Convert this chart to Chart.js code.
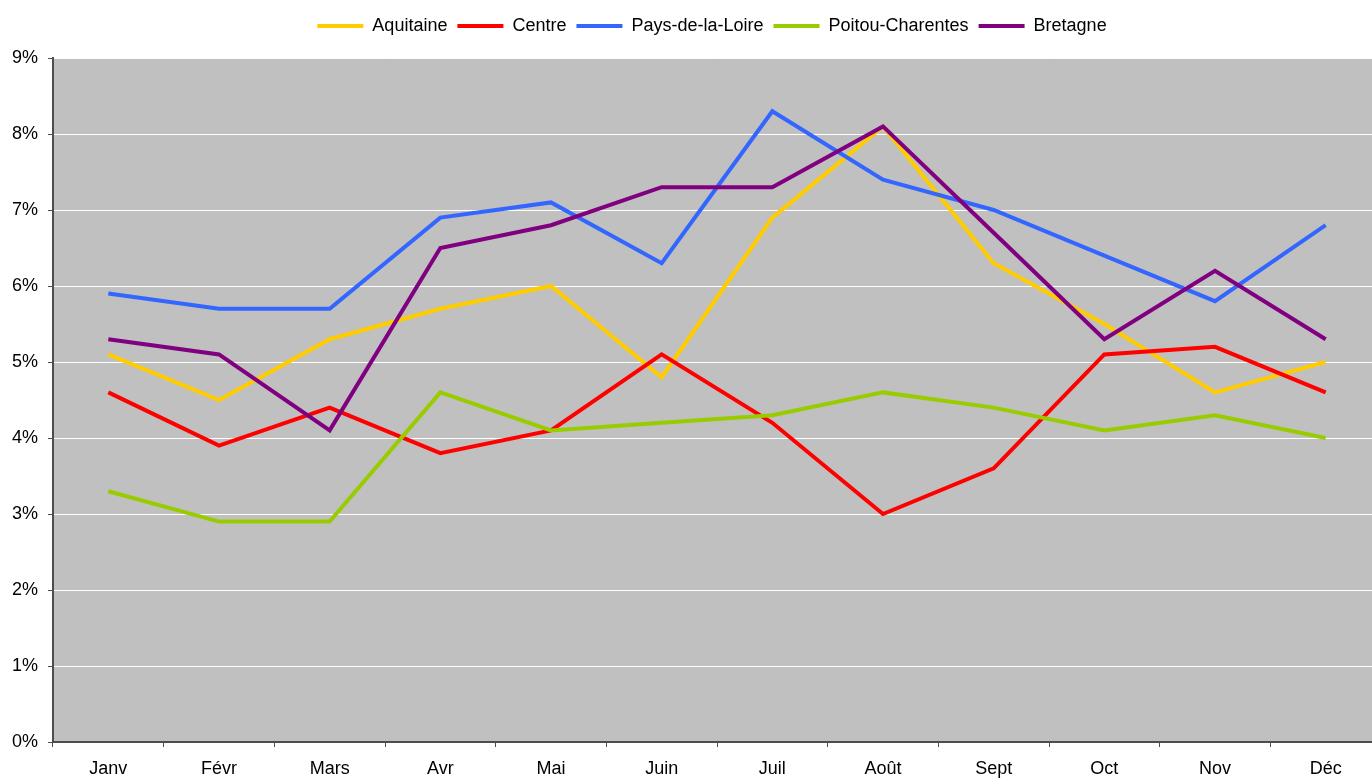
<!DOCTYPE html>
<html>
<head>
<meta charset="utf-8">
<script src="https://cdn.jsdelivr.net/npm/chart.js@4/dist/chart.umd.min.js"></script>
<style>
html,body{margin:0;padding:0;background:#fff;overflow:hidden;}
#wrap{width:1372px;height:779px;overflow:hidden;position:relative;}
canvas{display:block;}
</style>
</head>
<body>
<div id="wrap"><canvas id="c" width="1424" height="779" style="width:1424px;height:779px"></canvas></div>
<script>
const months = ['Janv','Févr','Mars','Avr','Mai','Juin','Juil','Août','Sept','Oct','Nov','Déc'];
const seriesNames = ['Aquitaine','Centre','Pays-de-la-Loire','Poitou-Charentes','Bretagne'];
const aquitaine = [5.1,4.5,5.3,5.7,6.0,4.8,6.9,8.1,6.3,5.5,4.6,5.0];
const centre    = [4.6,3.9,4.4,3.8,4.1,5.1,4.2,3.0,3.6,5.1,5.2,4.6];
const paysLoire = [5.9,5.7,5.7,6.9,7.1,6.3,8.3,7.4,7.0,6.4,5.8,6.8];
const poitou    = [3.3,2.9,2.9,4.6,4.1,4.2,4.3,4.6,4.4,4.1,4.3,4.0];
const bretagne  = [5.3,5.1,4.1,6.5,6.8,7.3,7.3,8.1,6.7,5.3,6.2,5.3];
const yTicks = [0,1,2,3,4,5,6,7,8,9];
const colors = ['#FFCC00','#FF0000','#3366FF','#99CC00','#800080'];
const values = [aquitaine, centre, paysLoire, poitou, bretagne];

const axisColor = '#4d4d4d';
const FONT = "'Liberation Sans', Arial, sans-serif";

const bgPlugin = {
  id: 'plotBg',
  beforeDraw(chart) {
    const {ctx, chartArea} = chart;
    ctx.save();
    ctx.fillStyle = '#C0C0C0';
    ctx.fillRect(chartArea.left, chartArea.top, chartArea.right - chartArea.left, chartArea.bottom - chartArea.top);
    ctx.restore();
  }
};
const legendHeightPlugin = {
  id: 'legendHeight',
  afterInit(chart) {
    const lg = chart.legend;
    if (!lg) return;
    const orig = lg.fit;
    lg.fit = function() { orig.call(this); this.height = 51; };
  }
};

const datasets = seriesNames.map((name, i) => ({
  label: name,
  data: values[i],
  borderColor: colors[i],
  backgroundColor: colors[i],
  borderWidth: 4,
  pointRadius: 0,
  pointHoverRadius: 0,
  fill: false,
  tension: 0,
  order: seriesNames.length - i
}));

const chart = new Chart(document.getElementById('c'), {
  type: 'line',
  data: { labels: months, datasets },
  plugins: [bgPlugin, legendHeightPlugin],
  options: {
    responsive: false,
    devicePixelRatio: 1,
    animation: false,
    events: [],
    layout: { padding: { top: 7, left: 0, right: 0, bottom: 0 } },
    plugins: {
      tooltip: { enabled: false },
      legend: {
        position: 'top',
        align: 'center',
        labels: {
          font: { family: FONT, size: 18 },
          color: '#000',
          boxWidth: 46,
          boxHeight: 4,
          padding: 10,
          generateLabels(chart) {
            return chart.data.datasets.map((ds, i) => ({
              text: ds.label,
              fillStyle: ds.borderColor,
              strokeStyle: ds.borderColor,
              lineWidth: 0,
              hidden: false,
              datasetIndex: i,
              fontColor: '#000'
            }));
          }
        }
      }
    },
    scales: {
      x: {
        type: 'category',
        offset: true,
        afterFit(s) { s.height = 37; },
        grid: {
          display: true,
          offset: true,
          drawOnChartArea: false,
          drawTicks: true,
          tickLength: 5,
          tickWidth: 1,
          tickColor: axisColor,
          color: axisColor
        },
        border: { display: true, color: axisColor, width: 2 },
        ticks: {
          autoSkip: false,
          maxRotation: 0,
          padding: 11,
          color: '#000',
          font: { family: FONT, size: 18 }
        }
      },
      y: {
        position: 'left',
        min: yTicks[0],
        max: yTicks[yTicks.length - 1],
        afterFit(s) { s.width = 53; },
        afterBuildTicks(s) { s.ticks = yTicks.map(v => ({ value: v })); },
        grid: {
          color: '#FFFFFF',
          lineWidth: 1,
          drawTicks: true,
          tickLength: 5,
          tickWidth: 1,
          tickColor: axisColor
        },
        border: { display: true, color: axisColor, width: 2 },
        ticks: {
          padding: 10,
          color: '#000',
          font: { family: FONT, size: 18 },
          callback: v => v + '%'
        }
      },
      yRightSpace: {
        position: 'right',
        min: 0,
        max: 9,
        afterFit(s) { s.width = 43; },
        grid: { display: false, drawTicks: false },
        border: { display: false },
        ticks: { display: false }
      }
    }
  }
});
</script>
</body>
</html>
